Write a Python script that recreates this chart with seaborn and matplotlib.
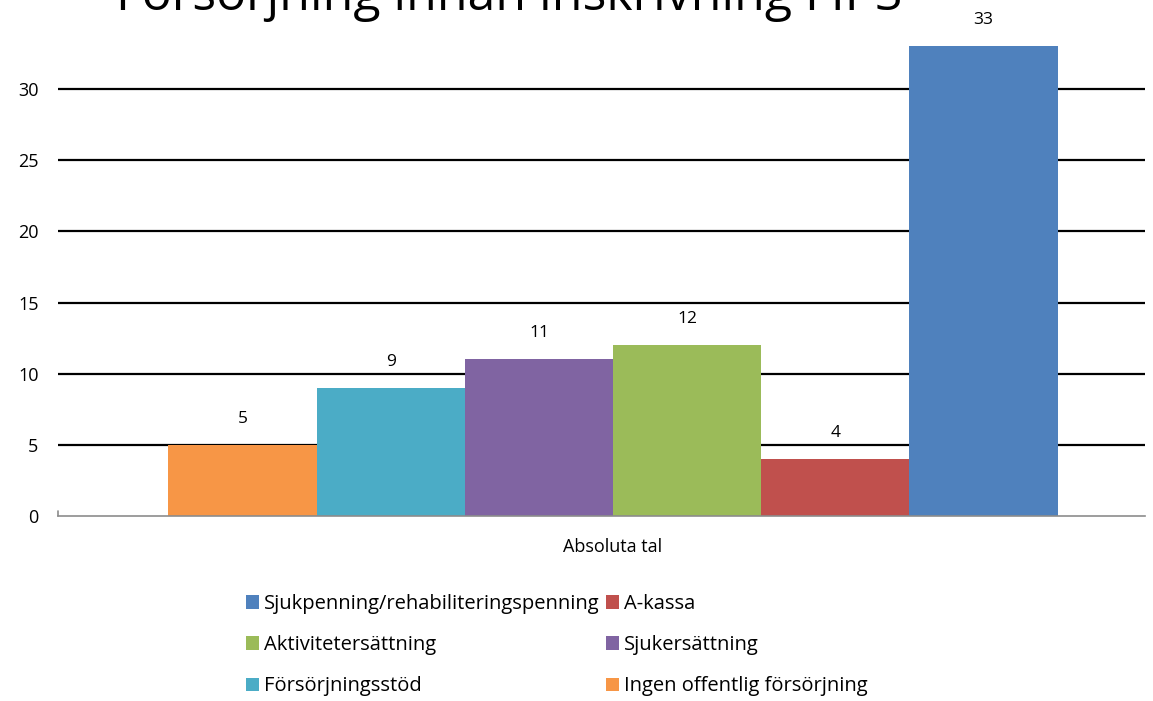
import seaborn as sns
import matplotlib.pyplot as plt
import pandas as pd

# data
series = ["Ingen offentlig försörjning", "Försörjningsstöd", "Sjukersättning",
          "Aktivitetersättning", "A-kassa", "Sjukpenning/rehabiliteringspenning"]
values = [5, 9, 11, 12, 4, 33]
colors = ["#F79646", "#4BACC6", "#8064A2", "#9BBB59", "#C0504D", "#4F81BD"]
category = "Absoluta tal"
legend_order = ["Sjukpenning/rehabiliteringspenning", "Aktivitetersättning", "Försörjningsstöd",
                "A-kassa", "Sjukersättning", "Ingen offentlig försörjning"]

df = pd.DataFrame({"kat": [category] * len(series), "serie": series, "antal": values})

sns.set_style("white")
plt.rcParams['font.family'] = ['Open Sans', 'DejaVu Sans']
plt.rcParams['text.color'] = 'black'
plt.rcParams['xtick.color'] = 'black'
plt.rcParams['ytick.color'] = 'black'

fig = plt.figure(figsize=(11.53, 7.01), dpi=100)
ax = fig.add_axes([58 / 1153, 1 - 516 / 701, 1087 / 1153, (516 - 18) / 701])

sns.barplot(data=df, x="kat", y="antal", hue="serie", hue_order=series,
            palette=colors, width=0.818, saturation=1, linewidth=0, ax=ax, legend=True)

for c in ax.containers:
    ax.bar_label(c, padding=13, fontsize=12.5, color="black")

ax.set_ylim(0, (516 - 18) / ((516 - 89) / 30))
ax.set_xlim(-0.5106, 0.4894)
ax.set_yticks([0, 5, 10, 15, 20, 25, 30])
ax.tick_params(axis="y", labelsize=13, length=0, pad=14)
ax.tick_params(axis="x", labelsize=13, length=0, pad=16)
ax.set_xlabel("")
ax.set_ylabel("")
ax.set_axisbelow(True)
for y in [5, 10, 15, 20, 25, 30]:
    ax.axhline(y, color="black", lw=1.6, zorder=0)

for s in ["top", "right", "left"]:
    ax.spines[s].set_visible(False)
ax.spines["bottom"].set_color("#8c8c8c")
ax.spines["bottom"].set_linewidth(1.2)
ax.plot([-0.5106, -0.5106], [0, 0.35], color="#8c8c8c", lw=1.2, clip_on=False)

handles, labels = ax.get_legend_handles_labels()
hmap = dict(zip(labels, handles))
ax.legend([hmap[l] for l in legend_order], legend_order, ncol=2, frameon=False,
          loc="upper left", bbox_to_anchor=(238 / 1153, 1 - 586 / 701),
          bbox_transform=fig.transFigure, fontsize=14.5, handlelength=0.65,
          handleheight=0.65, handletextpad=0.25, columnspacing=0.3,
          labelspacing=1.05, borderaxespad=0)

fig.text(509 / 1153, 1 - 10 / 701, "Försörjning innan inskrivning FIPS",
         ha="center", va="baseline", fontsize=36)

fig.savefig("out.png", dpi=100)
